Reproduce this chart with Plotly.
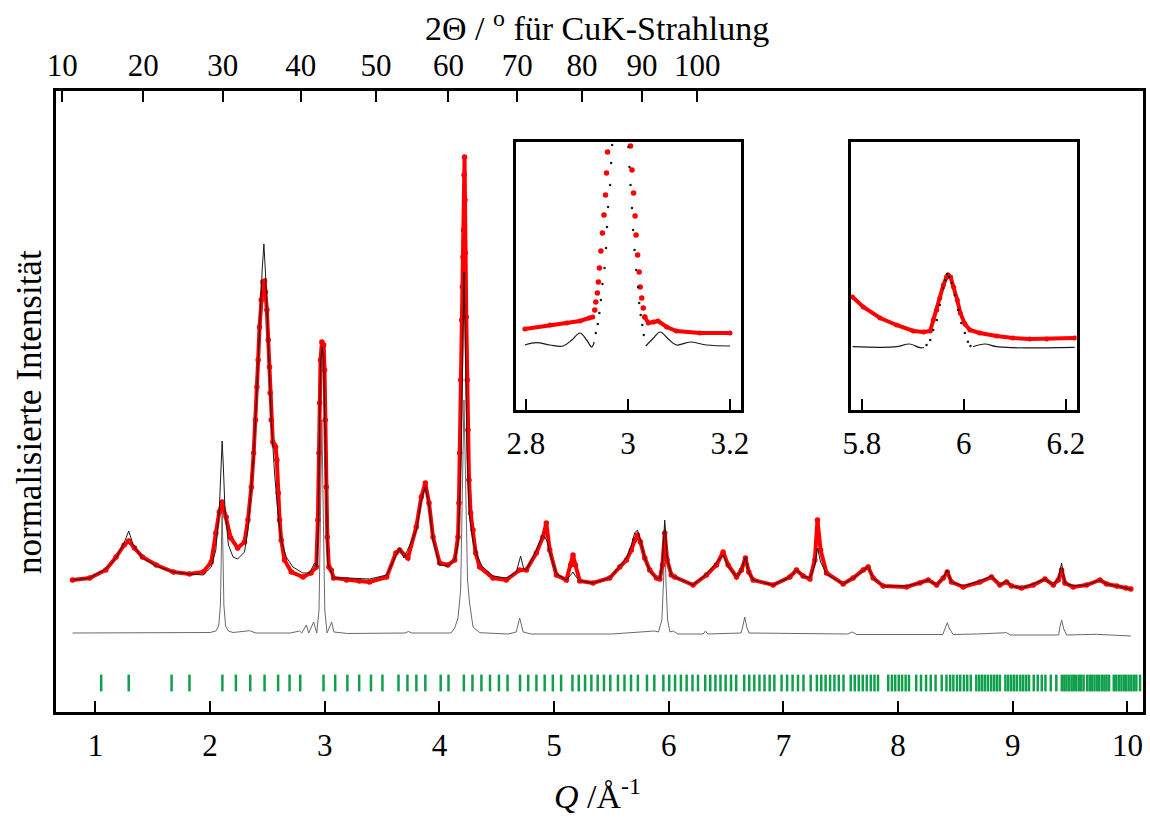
import math

import plotly.graph_objects as go

# Observed pattern (red dots), Q in 1/Angstrom, normalised intensity
obs_q = [
    0.80, 0.95, 1.09, 1.18, 1.25, 1.29, 1.34, 1.41, 1.53, 1.68,
    1.82, 1.94, 2.01, 2.05, 2.08, 2.105, 2.14, 2.18, 2.24, 2.30,
    2.33, 2.36, 2.38, 2.396, 2.408, 2.419, 2.431, 2.446, 2.46, 2.475,
    2.483, 2.495, 2.507, 2.518, 2.524, 2.533, 2.547, 2.56, 2.571, 2.582,
    2.594, 2.606, 2.62, 2.649, 2.708, 2.81, 2.88, 2.926, 2.94, 2.949,
    2.955, 2.963, 2.975, 2.99, 2.998, 3.004, 3.013, 3.022, 3.036, 3.056,
    3.077, 3.19, 3.30, 3.39, 3.54, 3.62, 3.653, 3.725, 3.798, 3.842,
    3.877, 3.909, 3.944, 4.002, 4.074, 4.133, 4.162, 4.17, 4.176, 4.185,
    4.194, 4.20, 4.205, 4.211, 4.215, 4.219, 4.223, 4.226, 4.234, 4.243,
    4.249, 4.258, 4.272, 4.293, 4.316, 4.351, 4.467, 4.583, 4.70, 4.758,
    4.845, 4.903, 4.932, 4.962, 5.02, 5.107, 5.145, 5.165, 5.186, 5.224,
    5.34, 5.485, 5.573, 5.631, 5.674, 5.703, 5.727, 5.753, 5.791, 5.834,
    5.893, 5.922, 5.945, 5.965, 5.986, 6.023, 6.052, 6.212, 6.329, 6.416,
    6.474, 6.518, 6.591, 6.634, 6.669, 6.698, 6.736, 6.911, 7.056, 7.114,
    7.172, 7.231, 7.274, 7.297, 7.324, 7.376, 7.521, 7.608, 7.696, 7.739,
    7.783, 7.87, 8.074, 8.19, 8.263, 8.336, 8.394, 8.429, 8.466, 8.568,
    8.714, 8.815, 8.888, 8.946, 8.99, 9.077, 9.179, 9.281, 9.354, 9.397,
    9.426, 9.455, 9.528, 9.644, 9.761, 9.819, 9.906, 9.988, 10.03,
]
obs_i = [
    1.32, 1.34, 1.42, 1.55, 1.67, 1.71, 1.64, 1.55, 1.47, 1.40,
    1.38, 1.40, 1.50, 1.79, 2.00, 2.10, 1.95, 1.74, 1.64, 1.70,
    1.92, 2.25, 2.59, 2.92, 3.25, 3.52, 3.85, 4.12, 4.30, 4.31,
    4.20, 4.02, 3.72, 3.45, 3.19, 2.92, 2.70, 2.67, 2.65, 2.52,
    2.19, 1.92, 1.72, 1.52, 1.40, 1.35, 1.39, 1.45, 1.92, 2.59,
    3.09, 3.52, 3.70, 3.67, 3.42, 2.92, 2.25, 1.75, 1.45, 1.42,
    1.34, 1.32, 1.31, 1.30, 1.35, 1.59, 1.62, 1.54, 1.85, 2.15,
    2.29, 2.09, 1.75, 1.49, 1.47, 1.52, 1.75, 2.09, 2.59, 3.32,
    3.92, 4.25, 4.55, 4.82, 5.37, 5.55, 5.12, 4.59, 3.95, 3.32,
    2.82, 2.32, 1.99, 1.82, 1.59, 1.45, 1.34, 1.32, 1.42, 1.42,
    1.59, 1.75, 1.89, 1.62, 1.37, 1.32, 1.47, 1.57, 1.47, 1.31,
    1.29, 1.34, 1.45, 1.52, 1.62, 1.72, 1.77, 1.70, 1.54, 1.42,
    1.34, 1.33, 1.47, 1.79, 1.52, 1.37, 1.35, 1.27, 1.37, 1.47,
    1.60, 1.47, 1.35, 1.42, 1.54, 1.40, 1.32, 1.27, 1.35, 1.42,
    1.36, 1.33, 1.52, 1.92, 1.62, 1.39, 1.28, 1.34, 1.42, 1.45,
    1.34, 1.26, 1.25, 1.29, 1.32, 1.27, 1.34, 1.40, 1.30, 1.25,
    1.30, 1.35, 1.27, 1.30, 1.26, 1.24, 1.27, 1.33, 1.27, 1.32,
    1.42, 1.29, 1.25, 1.27, 1.32, 1.28, 1.26, 1.24, 1.23,
]

# Calculated pattern (thin black line)
calc_q = [
    0.80, 0.95, 1.09, 1.18, 1.25, 1.29, 1.33, 1.41, 1.53, 1.68,
    1.82, 1.94, 2.01, 2.05, 2.08, 2.095, 2.105, 2.115, 2.13, 2.16,
    2.20, 2.24, 2.30, 2.33, 2.36, 2.38, 2.40, 2.42, 2.431, 2.454,
    2.469, 2.483, 2.498, 2.512, 2.533, 2.562, 2.591, 2.62, 2.664, 2.722,
    2.809, 2.867, 2.911, 2.931, 2.945, 2.955, 2.965, 2.978, 2.99, 3.00,
    3.012, 3.02, 3.027, 3.04, 3.056, 3.077, 3.20, 3.39, 3.54, 3.62,
    3.653, 3.69, 3.80, 3.842, 3.877, 3.909, 3.944, 4.00, 4.074, 4.133,
    4.16, 4.175, 4.19, 4.20, 4.207, 4.214, 4.221, 4.228, 4.24, 4.26,
    4.29, 4.33, 4.37, 4.467, 4.583, 4.67, 4.708, 4.735, 4.758, 4.845,
    4.898, 4.935, 4.962, 5.02, 5.107, 5.145, 5.165, 5.186, 5.224, 5.34,
    5.485, 5.573, 5.631, 5.674, 5.703, 5.727, 5.753, 5.791, 5.834, 5.893,
    5.922, 5.945, 5.965, 5.986, 6.023, 6.052, 6.212, 6.329, 6.416, 6.474,
    6.518, 6.591, 6.634, 6.669, 6.698, 6.736, 6.911, 7.056, 7.114, 7.172,
    7.231, 7.274, 7.297, 7.324, 7.376, 7.521, 7.608, 7.696, 7.739, 7.783,
    7.87, 8.074, 8.19, 8.263, 8.336, 8.394, 8.429, 8.466, 8.568, 8.714,
    8.815, 8.888, 8.946, 8.99, 9.077, 9.179, 9.281, 9.354, 9.397, 9.426,
    9.455, 9.528, 9.644, 9.761, 9.819, 9.906, 9.988, 10.03,
]
calc_i = [
    1.32, 1.34, 1.43, 1.54, 1.69, 1.81, 1.67, 1.54, 1.46, 1.40,
    1.38, 1.37, 1.45, 1.62, 2.02, 2.47, 2.71, 2.47, 2.02, 1.67,
    1.55, 1.53, 1.60, 1.82, 2.22, 2.57, 3.02, 3.47, 3.82, 4.42,
    4.68, 4.39, 3.92, 3.45, 2.92, 2.39, 1.99, 1.72, 1.55, 1.45,
    1.39, 1.39, 1.49, 1.45, 1.92, 2.92, 3.52, 3.65, 3.52, 2.92,
    2.12, 1.67, 1.49, 1.44, 1.40, 1.34, 1.34, 1.33, 1.37, 1.57,
    1.64, 1.54, 1.82, 2.12, 2.25, 2.07, 1.72, 1.47, 1.46, 1.52,
    1.67, 2.02, 2.62, 3.32, 4.02, 4.40, 4.02, 3.32, 2.62, 1.97,
    1.72, 1.56, 1.46, 1.36, 1.34, 1.40, 1.56, 1.43, 1.42, 1.62,
    1.77, 1.72, 1.60, 1.38, 1.32, 1.37, 1.40, 1.36, 1.31, 1.29,
    1.34, 1.46, 1.54, 1.67, 1.79, 1.82, 1.72, 1.54, 1.41, 1.34,
    1.33, 1.52, 1.92, 1.54, 1.37, 1.35, 1.27, 1.38, 1.49, 1.57,
    1.46, 1.35, 1.42, 1.55, 1.40, 1.32, 1.27, 1.35, 1.42, 1.36,
    1.34, 1.47, 1.64, 1.50, 1.38, 1.28, 1.34, 1.42, 1.45, 1.34,
    1.26, 1.26, 1.29, 1.32, 1.27, 1.34, 1.42, 1.30, 1.26, 1.31,
    1.36, 1.27, 1.31, 1.26, 1.24, 1.28, 1.33, 1.27, 1.33, 1.49,
    1.29, 1.26, 1.27, 1.32, 1.28, 1.26, 1.24, 1.23,
]

# Crystalline reference pattern (grey, shifted down)
ref_q = [
    0.80, 1.50, 2.00, 2.05, 2.075, 2.09, 2.10, 2.105, 2.11, 2.12,
    2.135, 2.16, 2.20, 2.344, 2.40, 2.70, 2.78, 2.80, 2.839, 2.86,
    2.903, 2.93, 2.95, 2.962, 2.975, 2.988, 3.00, 3.02, 3.06, 3.08,
    3.20, 3.70, 3.73, 3.76, 4.10, 4.133, 4.162, 4.185, 4.20, 4.214,
    4.228, 4.245, 4.263, 4.293, 4.351, 4.60, 4.67, 4.70, 4.73, 4.80,
    5.50, 5.877, 5.91, 5.94, 5.955, 5.965, 5.975, 5.99, 6.01, 6.04,
    6.08, 6.30, 6.32, 6.34, 6.63, 6.645, 6.663, 6.68, 6.70, 7.56,
    7.60, 7.64, 8.39, 8.41, 8.429, 8.45, 8.48, 8.685, 8.946, 8.98,
    9.40, 9.41, 9.426, 9.445, 9.47, 9.732, 10.03,
]
ref_i = [
    0.79, 0.79, 0.795, 0.81, 0.86, 1.07, 1.72, 2.07, 1.72, 1.07,
    0.86, 0.81, 0.795, 0.813, 0.79, 0.79, 0.81, 0.79, 0.87, 0.79,
    0.90, 0.79, 1.02, 1.92, 2.92, 1.92, 1.02, 0.79, 0.90, 0.80,
    0.785, 0.79, 0.805, 0.79, 0.79, 0.84, 0.94, 1.22, 2.32, 3.12,
    2.32, 1.32, 1.09, 0.85, 0.793, 0.78, 0.80, 0.94, 0.80, 0.78,
    0.78, 0.81, 0.80, 0.92, 1.32, 1.87, 1.32, 0.92, 0.80, 0.81,
    0.78, 0.78, 0.81, 0.78, 0.79, 0.85, 0.95, 0.85, 0.79, 0.78,
    0.80, 0.775, 0.775, 0.84, 0.893, 0.83, 0.775, 0.78, 0.793, 0.77,
    0.77, 0.84, 0.92, 0.83, 0.77, 0.777, 0.76,
]

# Reflection positions (green tick marks)
refl_q = [
    1.050, 1.290, 1.664, 1.820,
    2.107, 2.225, 2.350, 2.475, 2.593, 2.693, 2.786,
    2.989, 3.091, 3.197, 3.300, 3.403, 3.503,
    3.643, 3.721, 3.799, 3.877, 4.011, 4.079,
    4.213, 4.288, 4.366, 4.441, 4.519, 4.594,
    4.703, 4.774, 4.846, 4.918, 4.989, 5.061,
    5.160, 5.215, 5.270, 5.325, 5.380, 5.435, 5.490,
    5.557, 5.614, 5.671, 5.731, 5.810, 5.874,
    5.953, 6.004, 6.055, 6.106, 6.156, 6.207, 6.255,
    6.318, 6.362, 6.407, 6.451, 6.496, 6.543, 6.588,
    6.658, 6.702, 6.746, 6.791, 6.835, 6.880, 6.921,
    6.984, 7.032, 7.080, 7.127, 7.175, 7.238,
    7.292, 7.330, 7.368, 7.407, 7.445, 7.483, 7.524,
    7.587, 7.622, 7.657, 7.692, 7.727, 7.762, 7.794, 7.825,
    7.914, 7.946, 7.975, 8.006, 8.035, 8.066, 8.095,
    8.158, 8.200, 8.244, 8.285, 8.327, 8.381,
    8.422, 8.454, 8.482, 8.514, 8.542, 8.574, 8.603, 8.634,
    8.682, 8.708, 8.733, 8.758, 8.784, 8.812, 8.838, 8.863, 8.888,
    8.936, 8.961, 8.987, 9.012, 9.037, 9.066, 9.091, 9.117, 9.142,
    9.183, 9.218, 9.253, 9.285, 9.332, 9.380,
    9.428, 9.450, 9.469, 9.491, 9.513, 9.532, 9.554, 9.577, 9.596, 9.618,
    9.650, 9.672, 9.691, 9.713, 9.735, 9.754, 9.777, 9.799, 9.818, 9.840,
    9.881, 9.903, 9.926, 9.948, 9.970, 9.989, 10.011, 10.034, 10.056, 10.078,
    10.110,
]

# Top axis labels (2 theta for Cu K-alpha)
two_theta_ticks = [10, 20, 30, 40, 50, 60, 70, 80, 90, 100]
q_ticks = [1, 2, 3, 4, 5, 6, 7, 8, 9, 10]

# Inset 1 (Q 2.8 .. 3.2)
in1_obs_left_q = [2.798, 2.847, 2.880, 2.906, 2.924, 2.931]
in1_obs_left_i = [0.81, 0.85, 0.87, 0.89, 0.92, 0.93]
in1_obs_peak_q = [2.935, 2.937, 2.940, 2.942, 2.944, 2.947, 2.950, 2.953,
                  2.956, 2.958, 2.960, 3.005, 3.008, 3.011, 3.014, 3.016,
                  3.019, 3.022, 3.024, 3.027, 3.030, 3.033]
in1_obs_peak_i = [1.00, 1.08, 1.17, 1.28, 1.42, 1.59, 1.77, 1.95,
                  2.15, 2.37, 2.58, 2.64, 2.40, 2.17, 1.94, 1.75,
                  1.55, 1.38, 1.23, 1.12, 1.02, 0.93]
in1_obs_right_q = [3.033, 3.040, 3.050, 3.059, 3.076, 3.095, 3.141, 3.200]
in1_obs_right_i = [0.93, 0.87, 0.88, 0.89, 0.83, 0.79, 0.77, 0.77]
in1_calc_left_q = [2.798, 2.821, 2.847, 2.873, 2.890, 2.906, 2.919, 2.929, 2.934]
in1_calc_left_i = [0.65, 0.673, 0.65, 0.64, 0.70, 0.77, 0.70, 0.63, 0.68]
in1_calc_peak_q = [2.937, 2.941, 2.944, 2.947, 2.950, 2.954, 2.957, 2.959,
                   2.961, 2.965, 2.967, 2.969, 3.001, 3.003, 3.005, 3.008,
                   3.010, 3.013, 3.016, 3.020, 3.022, 3.025, 3.028, 3.031]
in1_calc_peak_i = [0.77, 0.86, 0.97, 1.10, 1.26, 1.42, 1.62, 1.83,
                   2.03, 2.25, 2.47, 2.65, 2.63, 2.43, 2.25, 2.02,
                   1.80, 1.60, 1.40, 1.23, 1.07, 0.95, 0.85, 0.75]
in1_calc_right_q = [3.035, 3.050, 3.063, 3.079, 3.095, 3.122, 3.154, 3.200]
in1_calc_right_i = [0.64, 0.72, 0.78, 0.71, 0.65, 0.68, 0.65, 0.64]

# Inset 2 (Q 5.8 .. 6.2)
in2_obs_q = [5.782, 5.803, 5.836, 5.868, 5.901, 5.921, 5.934, 5.940, 5.947,
             5.953, 5.960, 5.966, 5.969, 5.974, 5.980, 5.987, 5.993, 6.002,
             6.012, 6.031, 6.064, 6.096, 6.129, 6.162, 6.217]
in2_obs_i = [1.13, 1.03, 0.92, 0.85, 0.79, 0.78, 0.79, 0.90, 1.00,
             1.12, 1.25, 1.33, 1.35, 1.33, 1.23, 1.10, 0.97, 0.86,
             0.80, 0.77, 0.74, 0.72, 0.71, 0.71, 0.72]
in2_calc_left_q = [5.782, 5.836, 5.868, 5.894, 5.914, 5.922]
in2_calc_left_i = [0.633, 0.627, 0.633, 0.66, 0.623, 0.625]
in2_calc_peak_q = [5.927, 5.934, 5.940, 5.947, 5.953, 5.960, 5.964, 5.967,
                   5.971, 5.976, 5.982, 5.989, 5.995, 6.002, 6.008, 6.013]
in2_calc_peak_i = [0.65, 0.70, 0.80, 0.90, 1.05, 1.22, 1.30, 1.36,
                   1.33, 1.27, 1.15, 1.00, 0.87, 0.77, 0.683, 0.64]
in2_calc_right_q = [6.018, 6.041, 6.064, 6.096, 6.217]
in2_calc_right_i = [0.633, 0.66, 0.633, 0.623, 0.627]

CU_KALPHA = 1.5406  # Angstrom
FONT = "Liberation Serif"
RED = "#ff0000"
BLACK = "#1a1a1a"
GREY = "#6a6a6a"
GREEN = "#10a04c"
Q_RANGE = [0.656, 10.136]


def q_from_two_theta(two_theta):
    """Q = 4 pi sin(theta) / lambda."""
    return 4 * math.pi * math.sin(math.radians(two_theta / 2)) / CU_KALPHA


def line(q, i, color, width, xa="x", ya="y", shape="linear"):
    return go.Scatter(x=q, y=i, xaxis=xa, yaxis=ya, mode="lines",
                      line=dict(color=color, width=width, shape=shape),
                      hoverinfo="skip")


def dots(q, i, color, size, xa, ya, width=0):
    mode = "lines+markers" if width else "markers"
    return go.Scatter(x=q, y=i, xaxis=xa, yaxis=ya, mode=mode,
                      line=dict(color=color, width=width),
                      marker=dict(color=color, size=size), hoverinfo="skip")


fig = go.Figure()

# Main panel.
fig.add_trace(line(ref_q, ref_i, GREY, 1))
fig.add_trace(dots(obs_q, obs_i, RED, 5.5, "x", "y", width=4))
fig.add_trace(line(calc_q, calc_i, BLACK, 1))
fig.add_trace(go.Scatter(
    x=refl_q, y=[0.29] * len(refl_q), xaxis="x2", yaxis="y", mode="markers",
    marker=dict(symbol="line-ns", size=12, line=dict(color=GREEN, width=2.5)),
    hoverinfo="skip",
))

# Inset 1.
fig.add_trace(dots(in1_obs_left_q, in1_obs_left_i, RED, 5, "x3", "y3", width=4))
fig.add_trace(dots(in1_obs_right_q, in1_obs_right_i, RED, 5, "x3", "y3", width=4))
fig.add_trace(dots(in1_obs_peak_q, in1_obs_peak_i, RED, 5.5, "x3", "y3"))
fig.add_trace(line(in1_calc_left_q, in1_calc_left_i, BLACK, 1.2, "x3", "y3", "spline"))
fig.add_trace(line(in1_calc_right_q, in1_calc_right_i, BLACK, 1.2, "x3", "y3", "spline"))
fig.add_trace(dots(in1_calc_peak_q, in1_calc_peak_i, BLACK, 2.5, "x3", "y3"))

# Inset 2.
fig.add_trace(dots(in2_obs_q, in2_obs_i, RED, 5, "x4", "y4", width=4))
fig.add_trace(line(in2_calc_left_q, in2_calc_left_i, BLACK, 1.2, "x4", "y4", "spline"))
fig.add_trace(line(in2_calc_right_q, in2_calc_right_i, BLACK, 1.2, "x4", "y4", "spline"))
fig.add_trace(dots(in2_calc_peak_q, in2_calc_peak_i, BLACK, 2.5, "x4", "y4"))

tick_font = dict(family=FONT, size=31, color="black")
frame = dict(showline=True, linewidth=2.5, linecolor="black",
             showgrid=False, zeroline=False, automargin=False)
inside_ticks = dict(ticks="inside", ticklen=11, tickwidth=2, tickcolor="black",
                    tickfont=tick_font)
no_ticks = dict(showticklabels=False, ticks="")

fig.update_layout(
    width=1150,
    height=820,
    margin=dict(l=56, r=7, t=91, b=108),
    paper_bgcolor="white",
    plot_bgcolor="white",
    showlegend=False,
    font=dict(family=FONT, color="black"),
    xaxis=dict(range=Q_RANGE, tickvals=q_ticks, ticklabelstandoff=4,
               **inside_ticks, **frame),
    xaxis2=dict(range=Q_RANGE, overlaying="x", side="top", anchor="y",
                tickvals=[q_from_two_theta(t) for t in two_theta_ticks],
                ticktext=[str(t) for t in two_theta_ticks],
                ticklabelstandoff=0, **inside_ticks, **frame),
    yaxis=dict(range=[0, 6.21], mirror=True, **no_ticks, **frame),
    xaxis3=dict(domain=[0.4229, 0.6299], anchor="y3", range=[2.78, 3.221],
                tickvals=[2.8, 3.0, 3.2], ticktext=["2.8", "3", "3.2"],
                mirror=True, ticklabelstandoff=4, **inside_ticks, **frame),
    yaxis3=dict(domain=[0.4863, 0.9179], anchor="x3", range=[0, 2.68],
                mirror=True, **no_ticks, **frame),
    xaxis4=dict(domain=[0.7314, 0.9390], anchor="y4", range=[5.779, 6.221],
                tickvals=[5.8, 6.0, 6.2], ticktext=["5.8", "6", "6.2"],
                mirror=True, ticklabelstandoff=4, **inside_ticks, **frame),
    yaxis4=dict(domain=[0.4863, 0.9179], anchor="x4", range=[0, 2.68],
                mirror=True, **no_ticks, **frame),
    annotations=[
        dict(text="2Θ / <sup>o</sup> für CuK-Strahlung", x=0.498, y=1.1039,
             xref="paper", yref="paper", showarrow=False, yanchor="middle",
             font=dict(family=FONT, size=34, color="black")),
        dict(text="<i>Q</i> /Å<sup>-1</sup>", x=0.498, y=-0.132,
             xref="paper", yref="paper", showarrow=False, yanchor="middle",
             font=dict(family=FONT, size=34, color="black")),
        dict(text="normalisierte Intensität", x=-0.0239, y=0.4831,
             xref="paper", yref="paper", showarrow=False, textangle=-90,
             xanchor="center", yanchor="middle",
             font=dict(family=FONT, size=35, color="black")),
    ],
)

# The page body has a default margin; drop it so the figure sits at (0, 0).
fig.write_html(
    "out.html",
    config={"displayModeBar": False},
    post_script="document.body.style.margin='0';document.body.style.overflow='hidden';",
)
